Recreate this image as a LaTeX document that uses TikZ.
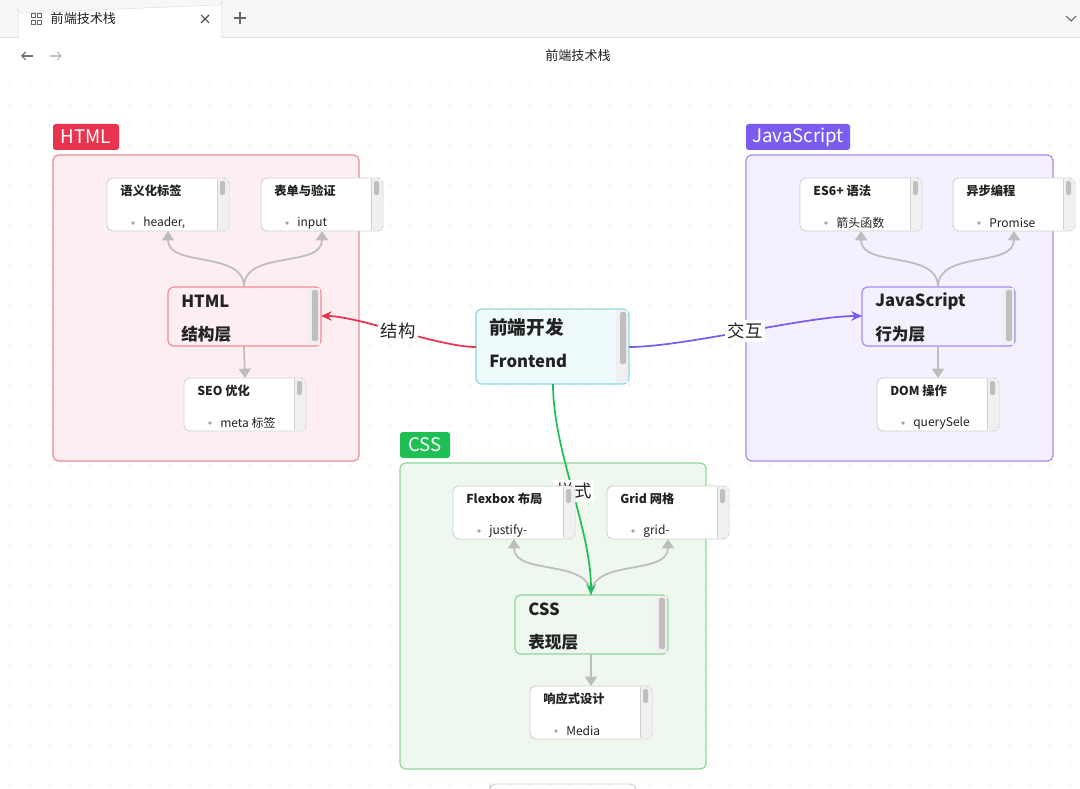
\documentclass[tikz,border=0pt]{standalone}
\usepackage{fontspec}
\setmainfont{Noto Sans CJK SC}
\usetikzlibrary{arrows.meta}
\definecolor{htmlc}{HTML}{E8344E}\definecolor{htmlb}{HTML}{F08A96}\definecolor{htmlf}{HTML}{FDEFF1}
\definecolor{jsc}{HTML}{7C5CF0}\definecolor{jsb}{HTML}{A58AF0}\definecolor{jsf}{HTML}{F4F0FD}
\definecolor{cssc}{HTML}{1FBF55}\definecolor{cssb}{HTML}{8FD69A}\definecolor{cssf}{HTML}{EEF8EF}
\definecolor{rootb}{HTML}{8FD8DC}\definecolor{rootf}{HTML}{EEFAFB}
\definecolor{leafb}{HTML}{D0D0D0}\definecolor{edg}{HTML}{BDBDBD}
\definecolor{txt}{HTML}{222222}
\tikzset{
 grp/.style={rounded corners=4pt,line width=0.9pt},
 tag/.style={rounded corners=2pt,text=white,font=\fontsize{14}{14}\selectfont,inner sep=0pt},
 box/.style={rounded corners=4pt,line width=0.9pt},
 leaf/.style={rounded corners=4pt,draw=leafb,fill=white,line width=0.7pt},
 sbar/.style={fill=black!25,rounded corners=1.5pt,draw=none},
 ltitle/.style={anchor=west,font=\bfseries\fontsize{9.2}{9.2}\selectfont,text=txt,inner sep=0pt},
 lbul/.style={anchor=west,font=\fontsize{9}{9}\selectfont,text=txt,inner sep=0pt},
 ntitle/.style={anchor=west,font=\bfseries\fontsize{12.5}{12.5}\selectfont,text=txt,inner sep=0pt},
 gedge/.style={draw=edg,line width=1.3pt,-{Triangle[length=7pt,width=9pt]}},
 cedge/.style={line width=1.3pt,-{Stealth[length=8pt,width=7pt]}},
 elab/.style={fill=white,font=\fontsize{13}{13}\selectfont,text=txt,inner sep=2pt},
}
\newcommand{\leafbox}[5]{% name x y title bullet
 \draw[leaf] (#2,#3) rectangle ++(122,53);
 \fill[black!6] (#2+110,#3+1) rectangle (#2+121,#3+52);
 \draw[leafb,line width=0.4pt] (#2+110,#3+1) -- (#2+110,#3+52);
 \path[sbar] (#2+113,#3+3) rectangle (#2+118,#3+17);
 \node[ltitle] (#1t) at (#2+13,#3+13) {#4};
 \fill[black!35] (#2+26,#3+45) circle (1.8);
 \node[lbul] (#1b) at (#2+36,#3+45) {#5};
 \coordinate (#1top) at (#2+61,#3);
 \coordinate (#1bot) at (#2+61,#3+53);
}
\begin{document}
\begin{tikzpicture}[x=0.75pt,y=-0.75pt]
\useasboundingbox (0,0) rectangle (1080,788);
% chrome
\fill[black!3] (0,0) rectangle (1080,37);
\fill[white] (0,37) rectangle (1080,788);
\draw[black!12] (0,37) -- (1080,37);
\fill[white,draw=black!12] (18,37) -- (18,9) arc (180:90:4) -- (218,5) arc (90:0:4) -- (222,37);
\fill[white] (18.5,36) rectangle (221.5,38.5);
\draw[black!60,line width=0.6pt] (31,13) rectangle (35,17) (37,13) rectangle (41,17) (31,20) rectangle (35,24) (37,20) rectangle (41,24);
\node[anchor=west,font=\fontsize{9.8}{9.8}\selectfont,text=txt] (tabt) at (46,19) {前端技术栈};
\draw[black!70,line width=0.8pt] (201,15) -- (209,23) (209,15) -- (201,23);
\draw[black!60,line width=0.8pt] (240,12) -- (240,24) (234,18) -- (246,18);
\draw[black!60,line width=0.8pt] (1066,16) -- (1071,21) -- (1076,16);
\draw[black!55,line width=0.8pt,-{Straight Barb[length=3pt]}] (33,56) -- (21,56);
\draw[black!25,line width=0.8pt,-{Straight Barb[length=3pt]}] (50,56) -- (62,56);
\node[font=\fontsize{9.8}{9.8}\selectfont,text=txt] (title) at (578,56) {前端技术栈};
% dots
\foreach \i in {0,...,53}{\foreach \j in {0,...,35}{\fill[black!22] (10+20*\i,85+20*\j) circle (0.7);}}
% groups
\draw[grp,draw=htmlb,fill=htmlf] (53,155) rectangle (359,461);
\draw[grp,draw=jsb,fill=jsf] (746,155) rectangle (1053,461);
\draw[grp,draw=cssb,fill=cssf] (400,463) rectangle (706,769);
\fill[htmlc,rounded corners=2pt] (53,124) rectangle (119,150);
\node[tag] (tagh) at (86,137) {HTML};
\fill[jsc,rounded corners=2pt] (746,124) rectangle (850,150);
\node[tag] (tagj) at (798,137) {JavaScript};
\fill[cssc,rounded corners=2pt] (400,432) rectangle (450,458);
\node[tag] (tagc) at (425,445) {CSS};
% bottom partial box
\draw[leafb,rounded corners=4pt,line width=0.7pt] (490,792) -- (490,788) -- (490,784) -- (636,784) -- (636,792);
% main nodes
\draw[box,draw=rootb,fill=rootf] (476,309) rectangle (629,384);
\fill[black!6] (616,310) rectangle (628,383);
\path[sbar] (620,312) rectangle (626,364);
\node[anchor=west,font=\bfseries\fontsize{14}{14}\selectfont,text=txt,inner sep=0pt] (rt1) at (489,327) {前端开发};
\node[ntitle] (rt2) at (489,361) {Frontend};
\coordinate (rootW) at (476,347); \coordinate (rootE) at (629,347); \coordinate (rootS) at (553,384);
\foreach \nm/\x/\y/\t/\s/\bc/\fc in {html/168/287/HTML/结构层/htmlb/htmlf, js/862/287/JavaScript/行为层/jsb/jsf, css/515/595/CSS/表现层/cssb/cssf}{
 \draw[box,draw=\bc,fill=\fc] (\x,\y) rectangle ++(153,59);
 \fill[black!6] (\x+140,\y+1) rectangle (\x+152,\y+58);
 \path[sbar] (\x+144,\y+3) rectangle (\x+150,\y+54);
 \node[ntitle] (\nm t) at (\x+13,\y+14) {\t};
 \node[ntitle] (\nm s) at (\x+13,\y+47) {\s};
 \coordinate (\nm N) at (\x+76,\y); \coordinate (\nm S) at (\x+76,\y+59);
 \coordinate (\nm W) at (\x,\y+29); \coordinate (\nm E) at (\x+153,\y+29);
}
% leaf edges
\draw[gedge] (htmlN) to[out=90,in=-90] (107+61,231);
\draw[gedge] (htmlN) to[out=90,in=-90] (261+61,231);
\draw[gedge] (htmlS) -- (245,378);
\draw[gedge] (jsN) to[out=90,in=-90] (861,231);
\draw[gedge] (jsN) to[out=90,in=-90] (1014,231);
\draw[gedge] (jsS) -- (938,378);
\draw[gedge] (cssN) to[out=90,in=-90] (514,539);
\draw[gedge] (cssN) to[out=90,in=-90] (668,539);
\draw[gedge] (cssS) -- (591,686);
% main edges
\draw[cedge,draw=htmlc] (rootW) to[out=180,in=0,looseness=0.6] (htmlE);
\draw[cedge,draw=jsc] (rootE) to[out=0,in=180,looseness=0.6] (jsW);
\draw[cedge,draw=cssc] (rootS) to[out=-90,in=90,looseness=0.8] (cssN);
\node[elab] (l1) at (398,331) {结构};
\node[elab] (l2) at (745,331) {交互};
\node[elab] (l3) at (574,491) {样式};
% leaves
\leafbox{a}{107}{178}{语义化标签}{header,}
\leafbox{b}{261}{178}{表单与验证}{input}
\leafbox{c}{184}{378}{SEO 优化}{meta 标签}
\leafbox{d}{800}{178}{ES6+ 语法}{箭头函数}
\leafbox{e}{953}{178}{异步编程}{Promise}
\leafbox{f}{877}{378}{DOM 操作}{querySele}
\leafbox{g}{453}{486}{Flexbox 布局}{justify-}
\leafbox{h}{607}{486}{Grid 网格}{grid-}
\leafbox{k}{530}{686}{响应式设计}{Media}
\end{tikzpicture}
\end{document}
